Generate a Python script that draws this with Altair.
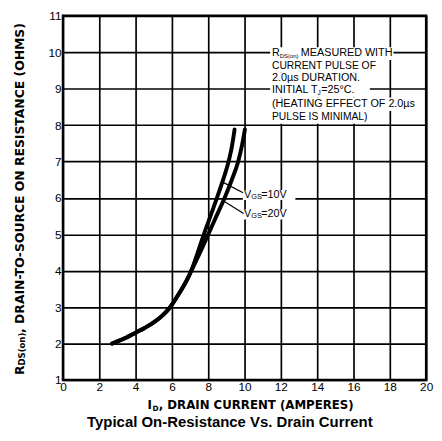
import altair as alt
import pandas as pd

# ---------------- data ----------------
id_vgs10 = [2.7, 3.0, 3.5, 4.0, 4.5, 5.0, 5.5, 5.9, 6.4, 6.8, 7.1, 7.42, 7.76, 8.12, 8.48, 8.82, 9.12, 9.3, 9.45]
r_vgs10 = [2.0, 2.06, 2.17, 2.3, 2.43, 2.58, 2.78, 3.0, 3.38, 3.72, 4.05, 4.5, 5.0, 5.5, 6.0, 6.5, 7.0, 7.4, 7.88]
id_vgs20 = [2.7, 3.0, 3.5, 4.0, 4.5, 5.0, 5.5, 5.9, 6.4, 6.8, 7.1, 7.55, 8.0, 8.45, 8.9, 9.3, 9.65, 9.85, 10.02]
r_vgs20 = [2.0, 2.06, 2.17, 2.3, 2.43, 2.58, 2.78, 3.0, 3.38, 3.72, 4.03, 4.5, 5.0, 5.5, 6.0, 6.5, 7.0, 7.42, 7.88]

x_ticks = [0, 2, 4, 6, 8, 10, 12, 14, 16, 18, 20]
y_ticks = [1, 2, 3, 4, 5, 6, 7, 8, 9, 10, 11]

# note block (data coordinates)
note_text = ["R", "DS(on)", "MEASURED WITH", "CURRENT PULSE OF", "2.0\u00b5s DURATION.",
             "INITIAL T", "J", "=25\u00b0C.", "(HEATING EFFECT OF 2.0\u00b5s", "PULSE IS MINIMAL)"]
note_x = [11.51, 11.94, 13.1, 11.51, 11.51, 11.51, 14.02, 14.22, 11.51, 11.51]
note_y = [9.97, 9.91, 9.97, 9.62, 9.29, 8.95, 8.89, 8.95, 8.575, 8.215]
note_size = [11, 6, 11, 10.5, 11, 11, 6.5, 11, 11, 10.5]
note_bg_x1 = [11.41, 11.41, 11.41, 11.41, 11.41, 11.41]
note_bg_x2 = [18.2, 17.08, 16.9, 16.9, 19.4, 16.86]
note_bg_y1 = [10.14, 9.79, 9.45, 9.13, 8.76, 8.39]
note_bg_y2 = [9.79, 9.45, 9.13, 8.76, 8.39, 8.04]

# V_GS labels
vgs_text = ["V", "GS", "=10V", "V", "GS", "=20V"]
vgs_x = [9.97, 10.37, 10.92, 9.97, 10.37, 10.92]
vgs_y = [6.08, 6.02, 6.08, 5.55, 5.49, 5.55]
vgs_size = [11, 7.5, 11, 11, 7.5, 11]
vgs_bg_x1 = [9.9, 9.9]
vgs_bg_x2 = [12.8, 12.8]
vgs_bg_y1 = [6.22, 5.69]
vgs_bg_y2 = [5.94, 5.41]
lead_x1 = [8.85, 8.82]
lead_y1 = [6.42, 5.92]
lead_x2 = [9.92, 9.95]
lead_y2 = [6.14, 5.57]

FONT = "Liberation Sans"
BOLD = "DejaVu Sans"

# ---------------- tables ----------------
curves = pd.DataFrame({
    "id": id_vgs10 + id_vgs20,
    "r": r_vgs10 + r_vgs20,
    "series": ["10V"] * len(id_vgs10) + ["20V"] * len(id_vgs20),
    "ord": list(range(len(id_vgs10))) + list(range(len(id_vgs20))),
})
notes = pd.DataFrame({"t": note_text, "x": note_x, "y": note_y, "s": note_size})
note_bg = pd.DataFrame({"x": note_bg_x1, "x2": note_bg_x2, "y": note_bg_y1, "y2": note_bg_y2})
vgs = pd.DataFrame({"t": vgs_text, "x": vgs_x, "y": vgs_y, "s": vgs_size})
vgs_bg = pd.DataFrame({"x": vgs_bg_x1, "x2": vgs_bg_x2, "y": vgs_bg_y1, "y2": vgs_bg_y2})
leads = pd.DataFrame({"x": lead_x1, "y": lead_y1, "x2": lead_x2, "y2": lead_y2})

XS = alt.Scale(domain=[0, 20], nice=False, zero=False)
YS = alt.Scale(domain=[1, 11], nice=False, zero=False)
XA = alt.Axis(values=x_ticks, title=None, format="d")
YA = alt.Axis(values=y_ticks, title=None, format="d")


def xe(f):
    return alt.X(f, type="quantitative", scale=XS, axis=XA)


def ye(f):
    return alt.Y(f, type="quantitative", scale=YS, axis=YA)


lines = alt.Chart(curves).mark_line(color="black", strokeWidth=4, interpolate="monotone", strokeCap="round").encode(
    x=xe("id"), y=ye("r"), detail="series:N", order="ord:Q")

bg1 = alt.Chart(note_bg).mark_rect(color="white").encode(x=xe("x"), x2="x2", y=ye("y"), y2="y2")
bg2 = alt.Chart(vgs_bg).mark_rect(color="white").encode(x=xe("x"), x2="x2", y=ye("y"), y2="y2")
lead = alt.Chart(leads).mark_rule(color="black", strokeWidth=1.2).encode(x=xe("x"), x2="x2", y=ye("y"), y2="y2")

note_t = alt.Chart(notes).mark_text(align="left", baseline="middle", font=FONT, color="black").encode(
    x=xe("x"), y=ye("y"), text="t:N", size=alt.Size("s:Q", scale=None, legend=None))
vgs_t = alt.Chart(vgs).mark_text(align="left", baseline="middle", font=FONT, color="black").encode(
    x=xe("x"), y=ye("y"), text="t:N", size=alt.Size("s:Q", scale=None, legend=None))


def ptext(txt, px, py, size, angle=0, align="left", baseline="alphabetic", font=BOLD):
    return alt.Chart(pd.DataFrame({"t": [txt]})).mark_text(
        align=align, baseline=baseline, angle=angle, fontSize=size, fontWeight="bold",
        font=font, color="black").encode(x=alt.value(px), y=alt.value(py), text="t:N")


titles = [
    ptext("R", -44, 366, 12.6, angle=270, baseline="middle"),
    ptext("DS(on)", -41.5, 356.3, 8.7, angle=270, baseline="middle"),
    ptext(", DRAIN-TO-SOURCE ON RESISTANCE (OHMS)", -44, 323, 12.6, angle=270, baseline="middle"),
    ptext("I", 86, 401, 12),
    ptext("D", 91.2, 402.8, 7.5),
    ptext(", DRAIN CURRENT (AMPERES)", 97.6, 401, 12),
    ptext("Typical On-Resistance Vs. Drain Current", 170, 418.5, 15.2, align="center", font=FONT),
]

chart = alt.layer(lines, bg1, bg2, lead, note_t, vgs_t, *titles).properties(
    width=370, height=371,
    autosize=alt.AutoSizeParams(type="none"),
    padding={"left": 56, "top": 4, "right": 8, "bottom": 50},
).configure_view(stroke="black", strokeWidth=2.5).configure_axis(
    grid=True, gridColor="black", gridWidth=1.7, gridOpacity=1, domain=False, ticks=False,
    labelFont=FONT, labelFontSize=12, labelColor="black", labelPadding=2,
    labelFlush=False, labelOverlap=False,
)

chart.save("out.html", embed_options={"renderer": "svg", "actions": False})
